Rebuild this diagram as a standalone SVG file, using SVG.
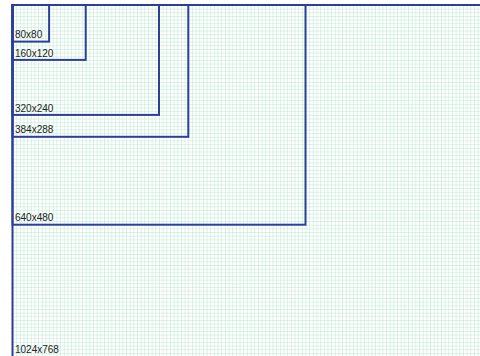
<svg xmlns="http://www.w3.org/2000/svg" width="480" height="356" viewBox="0 0 480 356">
<style>
.box{fill:none;stroke:#2c3f9c;stroke-width:2}
.lbl{font-family:"Liberation Sans",Arial,sans-serif;font-size:10px;fill:#222}
</style>
<defs>
<pattern id="grid" patternUnits="userSpaceOnUse" x="12.5" y="5" width="3.6624" height="3.6624">
<path d="M0 0V3.6624M0 0H3.6624" fill="none" stroke="#b6e5cc" stroke-width="1"/>
</pattern>
</defs>
<rect width="480" height="356" fill="#fff"/>
<rect x="12.5" y="5" width="470" height="360" fill="url(#grid)"/>
<g id="r1024x768"><rect class="box" x="12.5" y="5" width="470" height="355"/><text class="lbl" x="15" y="353">1024x768</text></g>
<g id="r640x480"><rect class="box" x="12.5" y="5" width="293" height="219.7"/><text class="lbl" x="15" y="221.2">640x480</text></g>
<g id="r384x288"><rect class="box" x="12.5" y="5" width="175.8" height="131.8"/><text class="lbl" x="15" y="133.3">384x288</text></g>
<g id="r320x240"><rect class="box" x="12.5" y="5" width="146.5" height="109.9"/><text class="lbl" x="15" y="111.5">320x240</text></g>
<g id="r160x120"><rect class="box" x="12.5" y="5" width="73.2" height="54.9"/><text class="lbl" x="15" y="56.5">160x120</text></g>
<g id="r80x80"><rect class="box" x="12.5" y="5" width="36.6" height="36.6"/><text class="lbl" x="15" y="38.2">80x80</text></g>
<g id="connectors"/>
</svg>
